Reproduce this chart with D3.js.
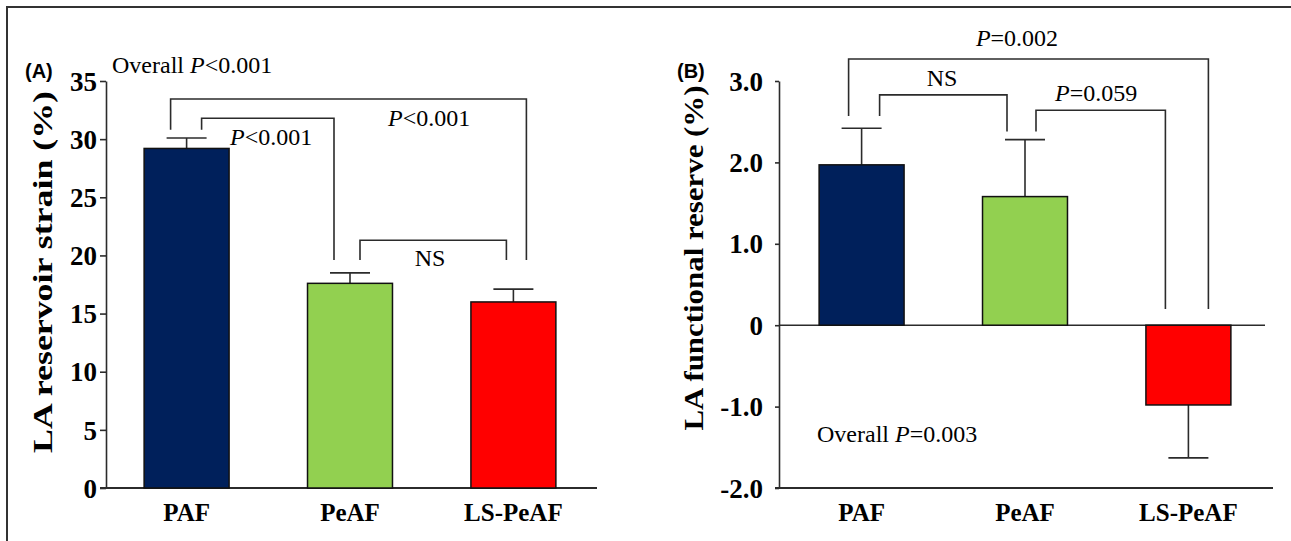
<!DOCTYPE html>
<html><head><meta charset="utf-8">
<script src="https://cdn.jsdelivr.net/npm/d3@7"></script>
<style>
html,body{margin:0;padding:0;background:#fff;}
svg{display:block;}
</style></head>
<body>
<svg id="chart" width="1291" height="541"></svg>
<script>
// ---------- DATA ----------
const categories = ["PAF", "PeAF", "LS-PeAF"];
const colors = ["#00205B", "#92D050", "#FF0000"];

const strainValues = [29.2, 17.6, 16.0];
const strainErrors = [0.9, 0.9, 1.1];
const strainTicks = [0, 5, 10, 15, 20, 25, 30, 35];
const strainTickLabels = ["0", "5", "10", "15", "20", "25", "30", "35"];

const reserveValues = [1.97, 1.58, -0.98];
const reserveErrors = [0.45, 0.70, 0.65];
const reserveTicks = [-2, -1, 0, 1, 2, 3];
const reserveTickLabels = ["-2.0", "-1.0", "0", "1.0", "2.0", "3.0"];

// comparisons: [from index, to index, label]
const strainComparisons = [[0, 2, "P<0.001"], [0, 1, "P<0.001"], [1, 2, "NS"]];
const reserveComparisons = [[0, 2, "P=0.002"], [0, 1, "NS"], [1, 2, "P=0.059"]];

// ---------- LAYOUT ----------
const svg = d3.select("#chart");
const SERIF = "'Liberation Serif','Times New Roman',serif";
const SANS = "'Liberation Sans',Arial,sans-serif";
const LINE = "#2b2b2b";

// frame
svg.append("path").attr("d", "M7,541 L7,7 L1291,7")
  .attr("fill", "none").attr("stroke", "#333").attr("stroke-width", 2);

function panel(cfg) {
  const x = d3.scaleBand().domain(categories).range(cfg.xRange)
    .paddingInner(0.48).paddingOuter(0.27);
  const y = d3.scaleLinear().domain(cfg.yDomain).range([488, 81]);
  const g = svg.append("g");

  // y axis
  const ax = d3.axisLeft(y).tickValues(cfg.ticks)
    .tickFormat((d, i) => cfg.tickLabels[i]).tickSize(cfg.tickSize).tickSizeOuter(0).tickPadding(cfg.tickPad);
  const ag = g.append("g").attr("transform", `translate(${cfg.yAxisX},0)`).call(ax);
  ag.select(".domain").attr("stroke", LINE).attr("stroke-width", 1.6);
  ag.selectAll(".tick line").attr("stroke", LINE).attr("stroke-width", 1.6);
  ag.selectAll(".tick text").attr("font-family", SERIF).attr("font-weight", "bold")
    .attr("font-size", 27).attr("fill", "#000").attr("dy", "0.34em");

  // x axis line (bottom)
  g.append("line").attr("x1", cfg.xRange[0]).attr("x2", cfg.xAxisEnd)
    .attr("y1", y(cfg.yDomain[0])).attr("y2", y(cfg.yDomain[0]))
    .attr("stroke", LINE).attr("stroke-width", 2);
  // zero line
  if (cfg.yDomain[0] < 0) {
    g.append("line").attr("x1", cfg.yAxisX).attr("x2", cfg.zeroEnd)
      .attr("y1", y(0)).attr("y2", y(0)).attr("stroke", LINE).attr("stroke-width", 1.6);
  }

  // error bars
  const capW = 40;
  cfg.values.forEach((v, i) => {
    const cx = x(categories[i]) + x.bandwidth() / 2;
    const end = v >= 0 ? v + cfg.errors[i] : v - cfg.errors[i];
    g.append("line").attr("x1", cx).attr("x2", cx).attr("y1", y(v)).attr("y2", y(end))
      .attr("stroke", LINE).attr("stroke-width", 1.6);
    g.append("line").attr("x1", cx - capW / 2).attr("x2", cx + capW / 2).attr("y1", y(end)).attr("y2", y(end))
      .attr("stroke", LINE).attr("stroke-width", 1.6);
  });

  // bars
  g.selectAll("rect.bar").data(cfg.values).join("rect").attr("class", "bar")
    .attr("x", (d, i) => x(categories[i]))
    .attr("width", x.bandwidth())
    .attr("y", d => y(Math.max(0, d)))
    .attr("height", d => Math.abs(y(d) - y(0)))
    .attr("fill", (d, i) => colors[i])
    .attr("stroke", "#111").attr("stroke-width", 1.5);

  // x labels
  categories.forEach((c, i) => {
    g.append("text").attr("x", x(c) + x.bandwidth() / 2).attr("y", 521)
      .attr("text-anchor", "middle").attr("font-family", SERIF).attr("font-weight", "bold")
      .attr("font-size", 25).text(c);
  });

  // brackets
  cfg.comparisons.forEach((cmp, k) => {
    const b = cfg.brackets[k];
    const x1 = x(categories[cmp[0]]) + x.bandwidth() / 2 + b.dx1;
    const x2 = x(categories[cmp[1]]) + x.bandwidth() / 2 + b.dx2;
    g.append("path")
      .attr("d", `M${x1},${y(b.l1)} L${x1},${y(b.top)} L${x2},${y(b.top)} L${x2},${y(b.l2)}`)
      .attr("fill", "none").attr("stroke", LINE).attr("stroke-width", 1.6);
    const t = g.append("text").attr("x", b.lx).attr("y", b.ly)
      .attr("font-family", SERIF).attr("font-size", 24).attr("text-anchor", b.anchor || "start");
    addLabel(t, cmp[2]);
  });

  // y title
  g.append("text").attr("transform", `translate(${cfg.titleX},${cfg.titleY}) rotate(-90)`)
    .attr("text-anchor", "middle").attr("font-family", SERIF).attr("font-weight", "bold")
    .attr("font-size", 27).attr("textLength", cfg.titleLen).attr("lengthAdjust", "spacingAndGlyphs")
    .text(cfg.title);

  // panel letter
  g.append("text").attr("x", cfg.letterX).attr("y", 78).attr("font-family", SANS)
    .attr("font-weight", "bold").attr("font-size", 20).text(cfg.letter);

  // overall
  const o = g.append("text").attr("x", cfg.overall.x).attr("y", cfg.overall.y)
    .attr("font-family", SERIF).attr("font-size", 24);
  addLabel(o, cfg.overall.text);
}

function addLabel(t, s) {
  const idx = s.indexOf("P");
  if (idx < 0 || s === "NS") { t.text(s); return; }
  if (idx > 0) t.append("tspan").text(s.slice(0, idx));
  t.append("tspan").attr("font-style", "italic").text("P");
  t.append("tspan").text(s.slice(idx + 1));
}

panel({
  xRange: [100, 600], xAxisEnd: 597, yAxisX: 106, yDomain: [0, 35],
  ticks: strainTicks, tickLabels: strainTickLabels, tickSize: 6, tickPad: 3,
  values: strainValues, errors: strainErrors, comparisons: strainComparisons,
  brackets: [
    {dx1: -16, dx2: 13, top: 33.45, l1: 30.8, l2: 19.6, lx: 388, ly: 126},
    {dx1: 15, dx2: -16, top: 31.8, l1: 30.8, l2: 19.6, lx: 230, ly: 145},
    {dx1: 10, dx2: -7, top: 21.3, l1: 19.6, l2: 19.6, lx: 430, ly: 266, anchor: "middle"}
  ],
  title: "LA reservoir strain (%)", titleX: 52, titleY: 272, titleLen: 362,
  letter: "(A)", letterX: 25,
  overall: {x: 112, y: 73, text: "Overall P<0.001"}
});

panel({
  xRange: [775, 1275], xAxisEnd: 1273, zeroEnd: 1265, yAxisX: 779, yDomain: [-2, 3],
  ticks: reserveTicks, tickLabels: reserveTickLabels, tickSize: 4, tickPad: 12,
  values: reserveValues, errors: reserveErrors, comparisons: reserveComparisons,
  brackets: [
    {dx1: -13, dx2: 20, top: 3.27, l1: 2.57, l2: 0.2, lx: 1017, ly: 46, anchor: "middle"},
    {dx1: 18, dx2: -18, top: 2.83, l1: 2.57, l2: 2.38, lx: 942, ly: 86, anchor: "middle"},
    {dx1: 11, dx2: -23, top: 2.64, l1: 2.38, l2: 0.2, lx: 1055, ly: 101}
  ],
  title: "LA functional reserve (%)", titleX: 703, titleY: 258, titleLen: 345,
  letter: "(B)", letterX: 677,
  overall: {x: 817, y: 442, text: "Overall P=0.003"}
});
</script>
</body></html>
